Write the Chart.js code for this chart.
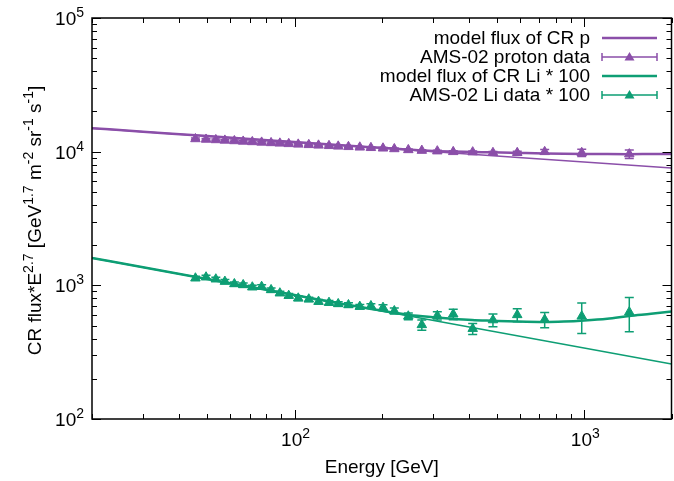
<!DOCTYPE html>
<html>
<head>
<meta charset="utf-8">
<script src="https://cdn.jsdelivr.net/npm/chart.js@4.4.1/dist/chart.umd.min.js"></script>
<style>
html, body { margin: 0; padding: 0; background: #fff; overflow: hidden; }
#cadre { width: 674px; height: 481px; overflow: hidden; }
canvas { display: block; }
</style>
</head>
<body>
<div id="cadre"><canvas id="graphique" width="678" height="481"></canvas></div>
<script>
// energies of the AMS-02 bins [GeV]
const energies = [45.5, 49.5, 53.5, 57.5, 62, 66.5, 71.5, 77, 83, 89, 95.5, 103, 112, 121, 131.5, 141.5, 153.5, 168, 183.5, 202, 221, 247, 275, 311, 353, 412, 484, 587, 730, 980, 1430];

const protons = [12450, 12340, 12240, 12140, 12030, 11930, 11830, 11730, 11630, 11540, 11440, 11340, 11250, 11150, 11060, 10960, 10870, 10780, 10690, 10600, 10480, 10310, 10190, 10090, 9970, 9920, 9810, 9810, 9970, 9810, 9590];
const protonsErr = [180, 180, 180, 175, 175, 175, 170, 170, 170, 170, 170, 165, 165, 165, 165, 160, 160, 160, 160, 160, 160, 160, 165, 170, 180, 200, 230, 280, 420, 600, 700];

const lithium = [1130, 1150, 1111, 1067, 1024, 1007, 968, 977, 924, 873, 837, 800, 787, 755, 742, 726, 713, 693, 701, 681, 643, 587, 506, 593, 608, 474, 550, 601, 554, 587, 630];
const lithiumErr = [40, 40, 38, 37, 35, 35, 34, 34, 33, 31, 30, 29, 29, 28, 28, 28, 28, 27, 28, 34, 33, 35, 45, 42, 55, 45, 60, 66, 72, 150, 180];

// model curves
const modeleE = [20, 30, 50, 70, 100, 150, 200, 250, 300, 350, 410, 480, 590, 730, 850, 1000, 1200, 1430, 1700, 2000];
const modeleProton = [15000, 14120, 13080, 12450, 11800, 11110, 10680, 10350, 10130, 10030, 9960, 9880, 9790, 9700, 9650, 9610, 9590, 9585, 9590, 9610];
const modeleLithium = [1603, 1364, 1114, 975, 846, 720, 645, 600, 578, 563, 551, 544, 536, 532, 536, 546, 563, 590, 612, 636];

// plain power laws (thin lines)
const loiE = [20, 2000];
const loiProton = [15000, 7550];
const loiLithium = [1603, 258];

const xTicks = [100, 1000];
const yTicks = [100, 1000, 10000, 100000];

const VIOLET = '#8b4fa9';
const VERT = '#0e9e74';
const POLICE = '"Liberation Sans", Arial, Helvetica, sans-serif';
const F_NORMAL = '19px ' + POLICE;
const F_SUP = '14px ' + POLICE;

function points(xs, ys) {
  return xs.map((x, i) => ({ x: x, y: ys[i] }));
}

function texteRiche(ctx, morceaux, x, y, align) {
  let largeur = 0;
  morceaux.forEach(m => { ctx.font = m[1] ? F_SUP : F_NORMAL; largeur += ctx.measureText(m[0]).width; });
  let cx = x;
  if (align === 'right') cx = x - largeur;
  if (align === 'center') cx = x - largeur / 2;
  ctx.textAlign = 'left';
  ctx.textBaseline = 'alphabetic';
  morceaux.forEach(m => {
    ctx.font = m[1] ? F_SUP : F_NORMAL;
    ctx.fillText(m[0], cx, m[1] ? y - 8 : y);
    cx += ctx.measureText(m[0]).width;
  });
}

const barresErreur = {
  id: 'barresErreur',
  afterDatasetsDraw(chart) {
    const ctx = chart.ctx;
    const xs = chart.scales.x, ys = chart.scales.y;
    ctx.save();
    chart.data.datasets.forEach((ds, i) => {
      if (!ds.erreurs || !chart.isDatasetVisible(i)) return;
      ctx.strokeStyle = ds.borderColor;
      ctx.lineWidth = 1.5;
      ds.data.forEach((p, j) => {
        const px = xs.getPixelForValue(p.x);
        const haut = ys.getPixelForValue(p.y + ds.erreurs[j]);
        const bas = ys.getPixelForValue(p.y - ds.erreurs[j]);
        ctx.beginPath();
        ctx.moveTo(px, haut); ctx.lineTo(px, bas);
        ctx.moveTo(px - 4.5, haut); ctx.lineTo(px + 4.5, haut);
        ctx.moveTo(px - 4.5, bas); ctx.lineTo(px + 4.5, bas);
        ctx.stroke();
      });
    });
    ctx.restore();
  }
};

const cadreEtAxes = {
  id: 'cadreEtAxes',
  afterDraw(chart) {
    const ctx = chart.ctx;
    const a = chart.chartArea;
    const xs = chart.scales.x, ys = chart.scales.y;
    ctx.save();
    ctx.strokeStyle = '#000';
    ctx.lineWidth = 1.5;
    ctx.strokeRect(a.left, a.top, a.right - a.left, a.bottom - a.top);

    ctx.lineWidth = 1;
    ctx.beginPath();
    // x ticks, bottom and top, inward
    for (let d = 10; d <= 1000; d *= 10) {
      for (let k = 1; k <= 9; k++) {
        const v = d * k;
        if (v < xs.min || v > xs.max) continue;
        const px = Math.round(xs.getPixelForValue(v)) + 0.5;
        const l = k === 1 ? 9 : 5;
        ctx.moveTo(px, a.bottom); ctx.lineTo(px, a.bottom - l);
        ctx.moveTo(px, a.top); ctx.lineTo(px, a.top + l);
      }
    }
    // y ticks, left and right
    for (let d = 100; d <= 100000; d *= 10) {
      for (let k = 1; k <= 9; k++) {
        const v = d * k;
        if (v < ys.min || v > ys.max) continue;
        const py = Math.round(ys.getPixelForValue(v)) + 0.5;
        const l = k === 1 ? 9 : 5;
        ctx.moveTo(a.left, py); ctx.lineTo(a.left + l, py);
        ctx.moveTo(a.right, py); ctx.lineTo(a.right - l, py);
      }
    }
    ctx.stroke();

    ctx.fillStyle = '#000';
    xTicks.forEach(v => {
      const px = xs.getPixelForValue(v);
      texteRiche(ctx, [['10', false], [String(Math.round(Math.log10(v))), true]], px + 1, a.bottom + 27, 'center');
    });
    yTicks.forEach(v => {
      const py = ys.getPixelForValue(v);
      texteRiche(ctx, [['10', false], [String(Math.round(Math.log10(v))), true]], a.left - 8, py + 7, 'right');
    });

    // axis titles
    ctx.font = F_NORMAL;
    ctx.textAlign = 'center';
    ctx.textBaseline = 'alphabetic';
    ctx.fillText('Energy [GeV]', (a.left + a.right) / 2, 473);

    ctx.save();
    ctx.translate(41, (a.top + a.bottom) / 2 + 2);
    ctx.rotate(-Math.PI / 2);
    texteRiche(ctx, [
      ['CR flux*E', false], ['2.7', true], [' [GeV', false], ['1.7', true],
      [' m', false], ['-2', true], [' sr', false], ['-1', true], [' s', false], ['-1', true], [']', false]
    ], 0, 0, 'center');
    ctx.restore();

    // key, gnuplot style: text right-aligned, sample on the right
    const lignes = [
      { t: 'model flux of CR p', c: VIOLET, barre: false },
      { t: 'AMS-02 proton data', c: VIOLET, barre: true },
      { t: 'model flux of CR Li * 100', c: VERT, barre: false },
      { t: 'AMS-02 Li data * 100', c: VERT, barre: true }
    ];
    lignes.forEach((l, i) => {
      const y = 38 + i * 19;
      ctx.fillStyle = '#000';
      ctx.font = F_NORMAL;
      ctx.textAlign = 'right';
      ctx.textBaseline = 'middle';
      ctx.fillText(l.t, 590, y + 1);
      ctx.strokeStyle = l.c;
      ctx.fillStyle = l.c;
      ctx.lineWidth = l.barre ? 1.5 : 2.5;
      ctx.beginPath();
      ctx.moveTo(602, y); ctx.lineTo(657, y);
      if (l.barre) {
        ctx.moveTo(602, y - 4); ctx.lineTo(602, y + 4);
        ctx.moveTo(657, y - 4); ctx.lineTo(657, y + 4);
      }
      ctx.stroke();
      if (l.barre) {
        ctx.beginPath();
        ctx.moveTo(629.5, y - 5); ctx.lineTo(634.5, y + 3.5); ctx.lineTo(624.5, y + 3.5);
        ctx.closePath();
        ctx.fill();
      }
    });
    ctx.restore();
  }
};

new Chart(document.getElementById('graphique'), {
  type: 'line',
  data: {
    datasets: [
      { data: points(loiE, loiProton), borderColor: VIOLET, borderWidth: 1.5, pointRadius: 0, tension: 0 },
      { data: points(modeleE, modeleProton), borderColor: VIOLET, borderWidth: 2.5, pointRadius: 0, cubicInterpolationMode: 'monotone' },
      { data: points(energies, protons), erreurs: protonsErr, showLine: false, borderColor: VIOLET, backgroundColor: VIOLET,
        pointStyle: 'triangle', pointRadius: 5.5, pointBorderWidth: 1 },
      { data: points(loiE, loiLithium), borderColor: VERT, borderWidth: 1.5, pointRadius: 0, tension: 0 },
      { data: points(modeleE, modeleLithium), borderColor: VERT, borderWidth: 2.5, pointRadius: 0, cubicInterpolationMode: 'monotone' },
      { data: points(energies, lithium), erreurs: lithiumErr, showLine: false, borderColor: VERT, backgroundColor: VERT,
        pointStyle: 'triangle', pointRadius: 5.5, pointBorderWidth: 1 }
    ]
  },
  options: {
    responsive: false,
    animation: false,
    clip: false,
    layout: { padding: { left: 92, top: 18, right: 2, bottom: 62 } },
    plugins: { legend: { display: false }, tooltip: { enabled: false } },
    scales: {
      x: { type: 'logarithmic', min: 20, max: 2000, display: false },
      y: { type: 'logarithmic', min: 100, max: 100000, display: false }
    }
  },
  plugins: [barresErreur, cadreEtAxes]
});
</script>
</body>
</html>
